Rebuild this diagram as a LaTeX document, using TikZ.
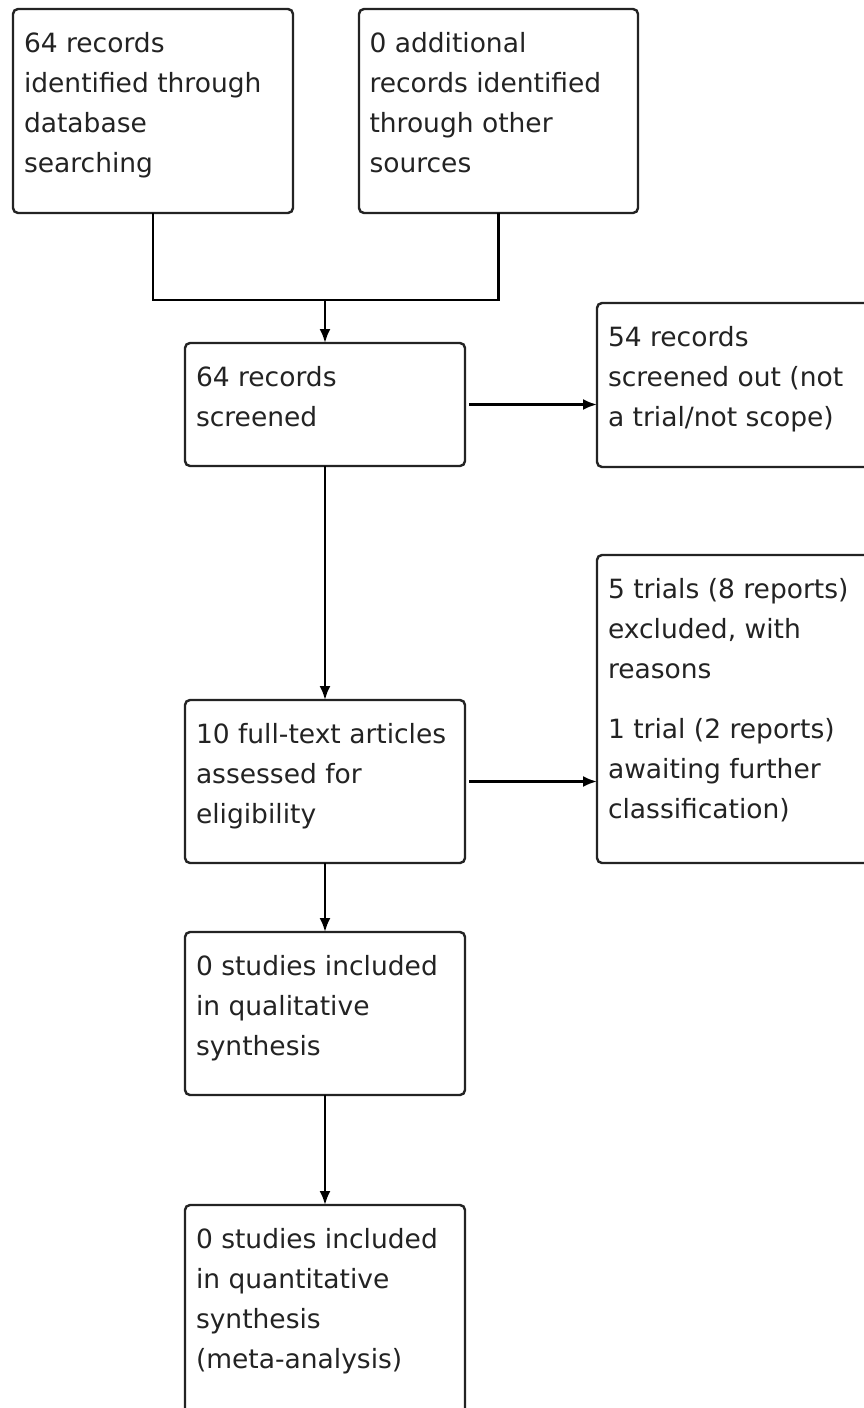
\documentclass[tikz,border=0pt]{standalone}
\usepackage{fontspec}
\setmainfont{DejaVu Sans}
\usetikzlibrary{arrows.meta}
\definecolor{ink}{RGB}{35,35,35}
\definecolor{edge}{RGB}{35,35,35}
\newcommand{\boxtxt}[3]{\parbox[c][#1][t]{#2}{\raggedright\fontsize{26.5pt}{40pt}\selectfont\color{ink}\rule{0pt}{43pt}#3}}
\begin{document}
\begin{tikzpicture}[x=1pt,y=-1pt,
  box/.style={draw=edge, line width=2.4pt, rounded corners=5pt, anchor=north west,
    inner xsep=10pt, inner ysep=0pt, outer sep=0pt, fill=white},
  conn/.style={draw=black, line width=2.4pt},
  arr/.style={conn, -{Latex[length=14pt,width=11pt]}}]
\clip (0,0) rectangle (864,1408);
\fill[white] (0,0) rectangle (864,1408);

\node[box, minimum width=280pt, minimum height=204pt] (b1) at (13,9)
  {\boxtxt{204pt}{258pt}{64 records\\identified through\\database\\searching}};
\node[box, minimum width=279pt, minimum height=204pt] (b2) at (359,9)
  {\boxtxt{204pt}{258pt}{0 additional\\records identified\\through other\\sources}};
\node[box, minimum width=280pt, minimum height=123pt] (b3) at (185,343)
  {\boxtxt{123pt}{258pt}{64 records\\screened}};
\node[box, minimum width=290pt, minimum height=164pt] (b4) at (597,303)
  {\boxtxt{164pt}{268pt}{54 records\\screened out (not\\a trial/not scope)}};
\node[box, minimum width=280pt, minimum height=163pt] (b5) at (185,700)
  {\boxtxt{163pt}{258pt}{10 full-text articles\\assessed for\\eligibility}};
\node[box, minimum width=290pt, minimum height=308pt] (b5r) at (597,555)
  {\boxtxt{308pt}{268pt}{5 trials (8 reports)\\excluded, with\\reasons\par\vspace{20pt}1 trial (2 reports)\\awaiting further\\classification)}};
\node[box, minimum width=280pt, minimum height=163pt] (b6) at (185,932)
  {\boxtxt{163pt}{258pt}{0 studies included\\in qualitative\\synthesis}};
\node[box, minimum width=280pt, minimum height=210pt] (b7) at (185,1205)
  {\boxtxt{210pt}{258pt}{0 studies included\\in quantitative\\synthesis\\(meta-analysis)}};

\coordinate (m) at (b3.north |- 0,300);
\draw[conn] (b1.south) |- (m) -| (b2.south);
\draw[arr] (m) -- (b3.north);
\draw[arr, shorten <=4pt] (b3.east) -- (b4.west |- b3.east);
\draw[arr] (b3.south) -- (b5.north);
\draw[arr, shorten <=4pt] (b5.east) -- (b5r.west |- b5.east);
\draw[arr] (b5.south) -- (b6.north);
\draw[arr] (b6.south) -- (b7.north);
\end{tikzpicture}
\end{document}
